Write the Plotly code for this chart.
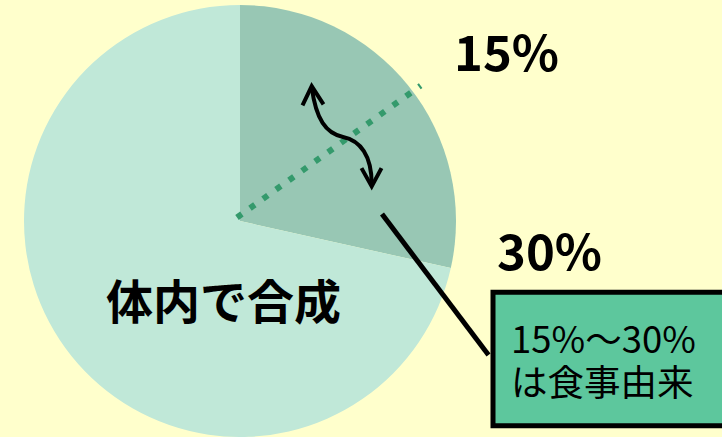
import math
import plotly.graph_objects as go

# ---- data ----
slice_labels = ["食事由来", "体内で合成"]
slice_values = [28.5, 71.5]
slice_colors = ["#98C7B4", "#C0E8D8"]
marker_pct_low = 15
label_low = "15%"
label_high = "30%"
label_inside = "体内で合成"
box_line1 = "15%〜30%"
box_line2 = "は食事由来"

W, H = 722, 437
TOP = 5
FONT = "Noto Sans CJK JP"


def X(px):
    return px / W


def Y(py):
    return 1 - py / H


fig = go.Figure()
fig.add_trace(go.Pie(
    labels=slice_labels,
    values=slice_values,
    sort=False,
    direction="clockwise",
    rotation=0,
    marker=dict(colors=slice_colors, line=dict(width=0)),
    textinfo="none",
    hoverinfo="label+percent",
    showlegend=False,
    domain=dict(x=[0, 480 / W], y=[0, 1]),
))

shapes = []

# dotted 15% line (direction from the 15% share of the circle)
ang = math.radians(marker_pct_low / 100 * 360)
sx, sy = 237, 215
L = 227
ex, ey = sx + L * math.sin(ang), sy - L * math.cos(ang)
shapes.append(dict(type="line", xref="paper", yref="paper",
                   x0=X(sx), y0=Y(sy), x1=X(ex), y1=Y(ey),
                   line=dict(color="#349A6C", width=6, dash="6px,10px")))

# curved double arrow
curve = ("M{},{} C{},{} {},{} {},{} C{},{} {},{} {},{}".format(
    X(311.7), Y(83), X(316), Y(116), X(326), Y(130), X(343), Y(133.5),
    X(360), Y(137), X(372), Y(152), X(371.7), Y(182)))
shapes.append(dict(type="path", xref="paper", yref="paper", path=curve,
                   line=dict(color="black", width=4)))
head1 = "M{},{} L{},{} L{},{}".format(X(302.5), Y(101.5), X(311.7), Y(82), X(323.5), Y(100.5))
head2 = "M{},{} L{},{} L{},{}".format(X(361.5), Y(165), X(371.7), Y(183.5), X(381.5), Y(165))
for hp in (head1, head2):
    shapes.append(dict(type="path", xref="paper", yref="paper", path=hp,
                       line=dict(color="black", width=4)))

# connector line
shapes.append(dict(type="line", xref="paper", yref="paper",
                   x0=X(382), y0=Y(211.5), x1=X(488.5), y1=Y(354),
                   line=dict(color="black", width=5)))

# callout box
shapes.append(dict(type="rect", xref="paper", yref="paper",
                   x0=X(493), y0=Y(290.5), x1=X(745), y1=Y(425.5),
                   fillcolor="#5DC79D", line=dict(color="black", width=5)))

annotations = [
    dict(text=label_low, x=X(506), y=Y(45), font=dict(size=49, family=FONT, color="black", weight="bold")),
    dict(text=label_high, x=X(549), y=Y(246), font=dict(size=49, family=FONT, color="black", weight="bold")),
    dict(text=label_inside, x=X(224), y=Y(297), font=dict(size=47, family=FONT, color="black", weight="bold")),
    dict(text=box_line1, x=X(509), y=Y(336), xanchor="left",
         font=dict(size=36.5, family=FONT, color="black")),
    dict(text=box_line2, x=X(509), y=Y(380), xanchor="left",
         font=dict(size=36.5, family=FONT, color="black")),
]
for a in annotations:
    a.update(xref="paper", yref="paper", showarrow=False)
    a.setdefault("xanchor", "center")
    a.setdefault("yanchor", "middle")

fig.update_layout(
    width=W, height=H,
    margin=dict(l=0, r=0, t=TOP, b=0),
    paper_bgcolor="#FFFFCC",
    plot_bgcolor="#FFFFCC",
    shapes=shapes,
    annotations=annotations,
)

fig.write_html(
    "out.html",
    config={"displayModeBar": False},
    post_script="document.body.style.margin='0';document.body.style.background='#FFFFCC';document.body.style.overflow='hidden';",
)
